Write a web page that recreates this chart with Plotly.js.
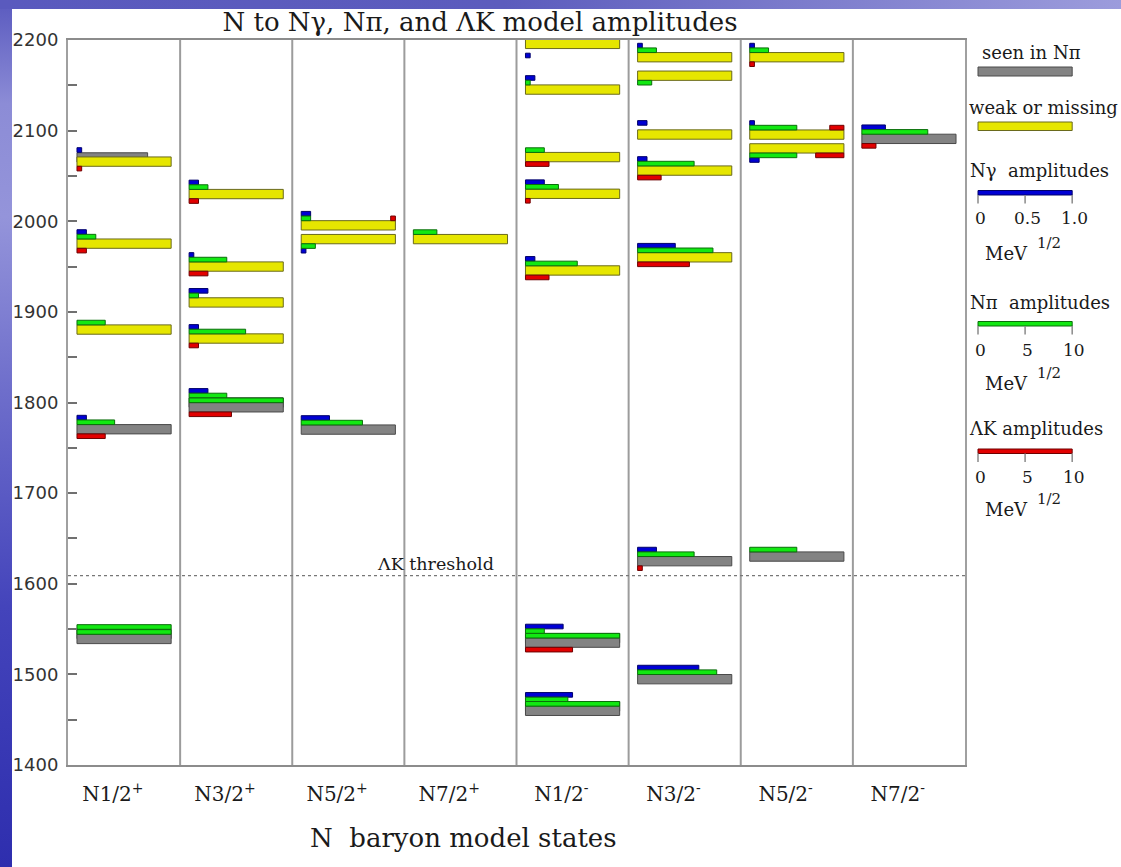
<!DOCTYPE html>
<html>
<head>
<meta charset="utf-8">
<script src="https://cdn.plot.ly/plotly-3.0.1.min.js"></script>
<style>
  html, body { margin: 0; padding: 0; width: 1121px; height: 867px; overflow: hidden; background: #ffffff; }
  #bg-left { position: absolute; left: 0; top: 0; width: 12px; height: 867px;
    background: linear-gradient(to bottom, #5a5abf 0%, #8c8cd6 12%, #9494da 25%, #6e6ecb 45%, #4444bb 70%, #2e2eae 100%); }
  #bg-top { position: absolute; left: 0; top: 0; width: 1121px; height: 9px;
    background: linear-gradient(to right, #5a5abe 0%, #5c5cbd 45%, #7a7acb 70%, #9c9cdc 100%); }
  #panel { position: absolute; left: 12px; top: 9px; width: 1109px; height: 858px; background: #ffffff; }
  #chart { position: absolute; left: 0; top: 0; width: 1121px; height: 867px; }
</style>
</head>
<body>
<div id="bg-left"></div>
<div id="bg-top"></div>
<div id="panel"></div>
<div id="chart"></div>
<script>
// Column (J^P) labels along the bottom axis
const columnLabels = ['N1/2<sup>+</sup>', 'N3/2<sup>+</sup>', 'N5/2<sup>+</sup>', 'N7/2<sup>+</sup>',
                      'N1/2<sup>-</sup>', 'N3/2<sup>-</sup>', 'N5/2<sup>-</sup>', 'N7/2<sup>-</sup>'];

// Model states: column index, mass (MeV), seen in Nπ (1) or weak/missing (0)
const stateCol  = [0, 0, 0, 0, 0, 0, 0,
                   1, 1, 1, 1, 1, 1,
                   2, 2, 2,
                   3,
                   4, 4, 4, 4, 4, 4, 4, 4, 4,
                   5, 5, 5, 5, 5, 5, 5,
                   6, 6, 6, 6,
                   7];
const stateMass = [2070.4, 2065.8, 1975.3, 1880.5, 1770.5, 1544.6, 1539.1,
                   2030.0, 1950.0, 1910.4, 1870.6, 1800.0, 1794.7,
                   1995.5, 1980.3, 1770.1,
                   1980.3,
                   2195.7, 2145.3, 2070.8, 2030.3, 1945.7, 1540.0, 1535.0, 1464.6, 1459.8,
                   2181.0, 2160.6, 2095.7, 2055.9, 1960.2, 1624.9, 1494.7,
                   2181.0, 2095.6, 2080.4, 1630.0,
                   2090.9];
const stateSeen = [1, 0, 0, 0, 1, 1, 1,
                   0, 0, 0, 0, 1, 1,
                   0, 0, 1,
                   0,
                   0, 0, 0, 0, 0, 1, 1, 1, 1,
                   0, 0, 0, 0, 0, 1, 1,
                   0, 0, 0, 1,
                   1];
// Fraction of the full bar length drawn for the state marker
const stateLen  = [0.75, 1, 1, 1, 1, 1, 1,
                   1, 1, 1, 1, 1, 1,
                   1, 1, 1,
                   1,
                   1, 1, 1, 1, 1, 1, 1, 1, 1,
                   1, 1, 1, 1, 1, 1, 1,
                   1, 1, 1, 1,
                   1];

// Decay amplitudes (MeV^1/2)
const ampNgamma = [0, 0.05, 0.10, 0, 0.10, 0, 0,
                   0.10, 0.05, 0.20, 0.10, 0.20, 0,
                   0.10, 0.05, 0.30,
                   0,
                   0.05, 0.10, 0, 0.20, 0.10, 0.40, 0, 0.50, 0,
                   0.05, 0, 0.10, 0.10, 0.40, 0.20, 0.65,
                   0.05, 0.05, 0.10, 0,
                   0.25];
const ampNpi    = [0, 0, 2.0, 3.0, 4.0, 10, 10,
                   2.0, 4.0, 1.0, 6.0, 4.0, 10,
                   1.0, 1.5, 6.5,
                   2.5,
                   0, 0.5, 2.0, 3.5, 5.5, 2.0, 10, 4.5, 10,
                   2.0, 1.5, 0, 6.0, 8.0, 6.0, 8.4,
                   2.0, 5.0, 5.0, 5.0,
                   7.0];
const ampLK     = [0, 0.5, 1.0, 0, 3.0, 0, 0,
                   1.0, 2.0, 0, 1.0, 0, 4.5,
                   0.5, 0, 0,
                   0,
                   0, 0, 2.5, 0.5, 2.5, 0, 5.0, 0, 0,
                   0, 0, 0, 2.5, 5.5, 0.5, 0,
                   0.5, 1.5, 3.0, 0,
                   1.5];
// Amplitude rows drawn below the marker (1) instead of above (0)
const rowsBelow = [0, 0, 0, 0, 0, 0, 0,
                   0, 0, 0, 0, 0, 0,
                   0, 1, 0,
                   0,
                   1, 0, 0, 0, 0, 0, 0, 0, 0,
                   0, 1, 0, 0, 0, 0, 0,
                   0, 0, 1, 0,
                   0];
// ΛK amplitude drawn in the Nπ row, anchored at the right end (1)
const lkRightEnd = [0, 0, 0, 0, 0, 0, 0,
                    0, 0, 0, 0, 0, 0,
                    1, 0, 0,
                    0,
                    0, 0, 0, 0, 0, 0, 0, 0, 0,
                    0, 0, 0, 0, 0, 0, 0,
                    0, 1, 1, 0,
                    0];

const ampFullScale = { gamma: 1.0, pi: 10, lk: 10 };
const yTickRange = [1400, 2200];
const lkThreshold = 1609;

// Geometry (column units / MeV)
const BAR_START = 0.08, BAR_LEN = 0.84, MAIN_H = 10.3, ROW_H = 5.1;

const COLORS = {
  seen:  { fill: '#838383', line: '#4a4a4a' },
  weak:  { fill: '#e6e600', line: '#6a6a1c' },
  gamma: { fill: '#0000d4', line: '#00006a' },
  pi:    { fill: '#12e812', line: '#0a6e0a' },
  lk:    { fill: '#e20000', line: '#6e0000' }
};

function newSet() { return { x: [], y: [], base: [], width: [] }; }
const sets = { seen: newSet(), weak: newSet(), gamma: newSet(), pi: newSet(), lk: newSet() };
function push(set, len, y, base, h) { set.x.push(len); set.y.push(y); set.base.push(base); set.width.push(h); }

for (let i = 0; i < stateMass.length; i++) {
  const start = stateCol[i] + BAR_START;
  const m = stateMass[i];
  push(stateSeen[i] ? sets.seen : sets.weak, BAR_LEN * stateLen[i], m, start, MAIN_H);

  const dir = rowsBelow[i] ? -1 : 1;
  const piY = m + dir * (MAIN_H / 2 + ROW_H / 2);
  const gY  = m + dir * (MAIN_H / 2 + ROW_H * 1.5);
  const kY  = lkRightEnd[i] ? piY : m - dir * (MAIN_H / 2 + ROW_H / 2);

  if (ampNgamma[i] > 0) push(sets.gamma, BAR_LEN * ampNgamma[i] / ampFullScale.gamma, gY, start, ROW_H);
  if (ampNpi[i] > 0)    push(sets.pi,    BAR_LEN * ampNpi[i] / ampFullScale.pi, piY, start, ROW_H);
  if (ampLK[i] > 0) {
    const len = BAR_LEN * ampLK[i] / ampFullScale.lk;
    push(sets.lk, len, kY, lkRightEnd[i] ? start + BAR_LEN - len : start, ROW_H);
  }
}

function barTrace(set, c) {
  return {
    type: 'bar', orientation: 'h',
    x: set.x, y: set.y, base: set.base, width: set.width,
    marker: { color: c.fill, line: { color: c.line, width: 1 } },
    hoverinfo: 'skip', showlegend: false
  };
}
const traces = ['seen', 'weak', 'gamma', 'pi', 'lk'].map(k => barTrace(sets[k], COLORS[k]));

// Plot-area pixel frame, used for the key on the right
const L = 68, R = 965, T = 40, B = 765, W = R - L, H = B - T;
const px = v => (v - L) / W;
const py = v => (B - v) / H;

const serif = 'DejaVu Serif';
const textColor = '#1a1a1a';

const shapes = [];
// Column separators
for (let c = 1; c < columnLabels.length; c++) {
  shapes.push({ type: 'line', xref: 'x', yref: 'paper', x0: c, x1: c, y0: 0, y1: 1,
                line: { color: '#9c9c9c', width: 2 }, layer: 'below' });
}
// ΛK threshold
shapes.push({ type: 'line', xref: 'paper', yref: 'y', x0: 0, x1: 1, y0: lkThreshold, y1: lkThreshold,
              line: { color: '#777', width: 1.3, dash: 'dot' } });

const annotations = [
  { text: 'ΛK threshold', xref: 'x', yref: 'y', x: 3.82, y: lkThreshold, xanchor: 'right', yanchor: 'bottom',
    showarrow: false, font: { family: serif, size: 17.5, color: textColor } },
  { text: 'N\u00a0 baryon model states', xref: 'paper', yref: 'paper', x: px(463), y: py(838),
    xanchor: 'center', yanchor: 'middle', showarrow: false, font: { family: serif, size: 26, color: textColor } }
];

// Key on the right-hand side
const keyX0 = 978, keyX1 = keyX0 + BAR_LEN * W / columnLabels.length;
function keyBar(y0, y1, c) {
  shapes.push({ type: 'rect', xref: 'paper', yref: 'paper', x0: px(keyX0), x1: px(keyX1), y0: py(y1), y1: py(y0),
                fillcolor: c.fill, line: { color: c.line, width: 1 } });
}
function keyLabel(text, x, y, size, anchor, family) {
  annotations.push({ text, xref: 'paper', yref: 'paper', x: px(x), y: py(y), xanchor: anchor || 'left',
                     yanchor: 'middle', showarrow: false,
                     font: { family: family || serif, size, color: textColor } });
}
function keyScale(yBar, tickLabels, c, yLabel, yUnit) {
  keyBar(yBar, yBar + 4.5, c);
  const n = tickLabels.length;
  for (let k = 0; k < n; k++) {
    const xx = keyX0 + (keyX1 - keyX0) * k / (n - 1);
    shapes.push({ type: 'line', xref: 'paper', yref: 'paper', x0: px(xx), x1: px(xx),
                  y0: py(yBar + 4.5), y1: py(yBar + 13), line: { color: '#8a8a8a', width: 1.5 } });
    keyLabel(tickLabels[k], xx + 2, yLabel, 17, 'center');
  }
  keyLabel('MeV', 983, yUnit, 18);
  keyLabel('1/2', 1035, yUnit - 10, 15);
}

keyLabel('seen in Nπ', 980, 52, 18);
keyBar(67, 76, COLORS.seen);
keyLabel('weak or missing', 967, 107, 18);
keyBar(122, 130.5, COLORS.weak);
keyLabel('Nγ\u00a0 amplitudes', 968, 170, 18);
keyScale(190.5, ['0', '0.5', '1.0'], COLORS.gamma, 218, 253);
keyLabel('Nπ\u00a0 amplitudes', 968, 302, 18);
keyScale(321.5, ['0', '5', '10'], COLORS.pi, 350, 383);
keyLabel('ΛK amplitudes', 967, 428, 18);
keyScale(449, ['0', '5', '10'], COLORS.lk, 477, 509);

const layout = {
  width: 1121, height: 867,
  margin: { l: L, r: 1121 - R, t: T, b: 867 - B, pad: 0 },
  paper_bgcolor: 'rgba(0,0,0,0)',
  plot_bgcolor: '#ffffff',
  barmode: 'overlay',
  bargap: 0,
  title: {
    text: 'N to Nγ, Nπ, and ΛK model amplitudes',
    font: { family: serif, size: 26, color: textColor },
    xref: 'container', yref: 'container',
    x: 480 / 1121, xanchor: 'center', y: 1 - 22 / 867, yanchor: 'middle'
  },
  xaxis: {
    range: [0, columnLabels.length],
    tickmode: 'array',
    tickvals: columnLabels.map((_, i) => i + 0.4),
    ticktext: columnLabels,
    ticks: '',
    showgrid: false, zeroline: false,
    showline: true, mirror: true, linecolor: '#8c8c8c', linewidth: 2,
    tickfont: { family: serif, size: 20, color: textColor },
    ticklabelstandoff: 10,
    fixedrange: true
  },
  yaxis: {
    range: yTickRange,
    tick0: 1400, dtick: 100,
    ticks: 'inside', ticklen: 9, tickwidth: 2, tickcolor: '#707070',
    minor: { dtick: 50, ticks: 'inside', ticklen: 9, tickwidth: 2, tickcolor: '#707070', showgrid: false },
    showgrid: false, zeroline: false,
    showline: true, mirror: true, linecolor: '#a0a0a0', linewidth: 2,
    tickfont: { family: 'DejaVu Sans', size: 18, color: '#333' },
    ticklabelstandoff: 4,
    fixedrange: true
  },
  shapes,
  annotations
};

Plotly.newPlot('chart', traces, layout, { staticPlot: true, displayModeBar: false });
</script>
</body>
</html>
